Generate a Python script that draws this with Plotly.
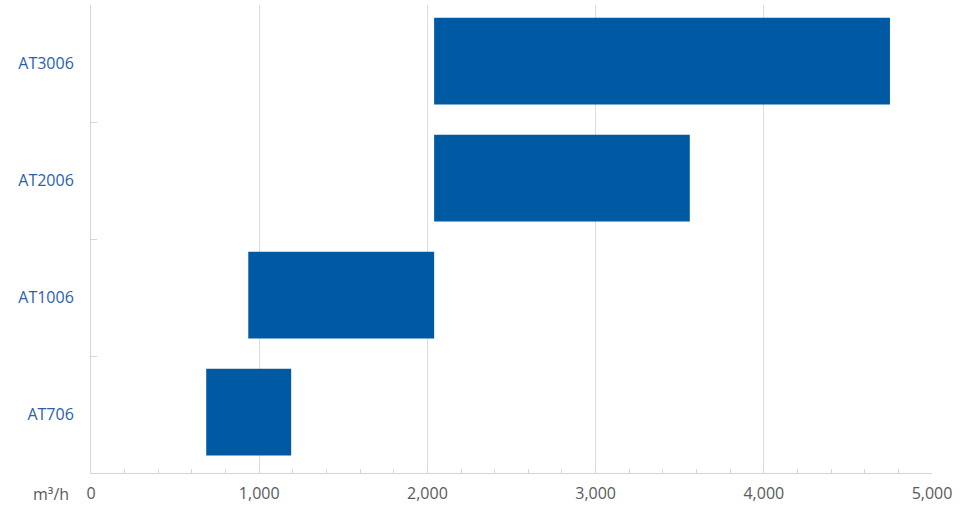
import plotly.graph_objects as go

models = ["AT706", "AT1006", "AT2006", "AT3006"]
flow_min = [685, 935, 2040, 2040]
flow_max = [1190, 2040, 3560, 4750]
x_ticks = [0, 1000, 2000, 3000, 4000, 5000]
x_tick_labels = ["0", "1,000", "2,000", "3,000", "4,000", "5,000"]

widths = [b - a for a, b in zip(flow_min, flow_max)]

fig = go.Figure(go.Bar(
    y=models, x=widths, base=flow_min, orientation="h",
    width=0.74, offset=-0.35,
    marker=dict(color="#005AA3", line=dict(width=0)),
    hoverinfo="skip",
))

fig.update_layout(
    width=968, height=513,
    margin=dict(l=91, r=36, t=5, b=40),
    paper_bgcolor="white", plot_bgcolor="white",
    showlegend=False,
    font=dict(family="Open Sans, Noto Sans, sans-serif", size=16, color="#5a5a5a"),
)
fig.update_xaxes(
    range=[0, 5000], tickvals=x_ticks, ticktext=x_tick_labels,
    showgrid=True, gridcolor="#dcdcdc", gridwidth=1,
    showline=True, linecolor="#d6d6d6", linewidth=1,
    ticks="inside", ticklen=6, tickcolor="#d6d6d6",
    minor=dict(dtick=200, ticks="inside", ticklen=4, tickcolor="#d6d6d6", showgrid=False),
    zeroline=False, fixedrange=True, automargin=False,
    ticklabelstandoff=6,
    tickfont=dict(color="#5a5a5a", size=16),
)
fig.update_yaxes(
    type="category", categoryorder="array", categoryarray=models,
    showgrid=False, showline=True, linecolor="#d6d6d6", linewidth=1,
    ticks="inside", ticklen=6, tickcolor="#d6d6d6", tickson="boundaries",
    tickfont=dict(color="#2a5fac", size=16),
    ticklabelstandoff=13, automargin=False,
    zeroline=False, fixedrange=True,
)
fig.add_annotation(
    text="m³/h", x=0, xref="x", y=0, yref="paper",
    xanchor="right", yanchor="top", xshift=-20, yshift=-8,
    showarrow=False, font=dict(color="#5a5a5a", size=16),
)

fig.write_html(
    "out.html",
    config={"displayModeBar": False, "staticPlot": True},
    post_script="document.body.style.margin='0';document.body.style.padding='0';",
)
